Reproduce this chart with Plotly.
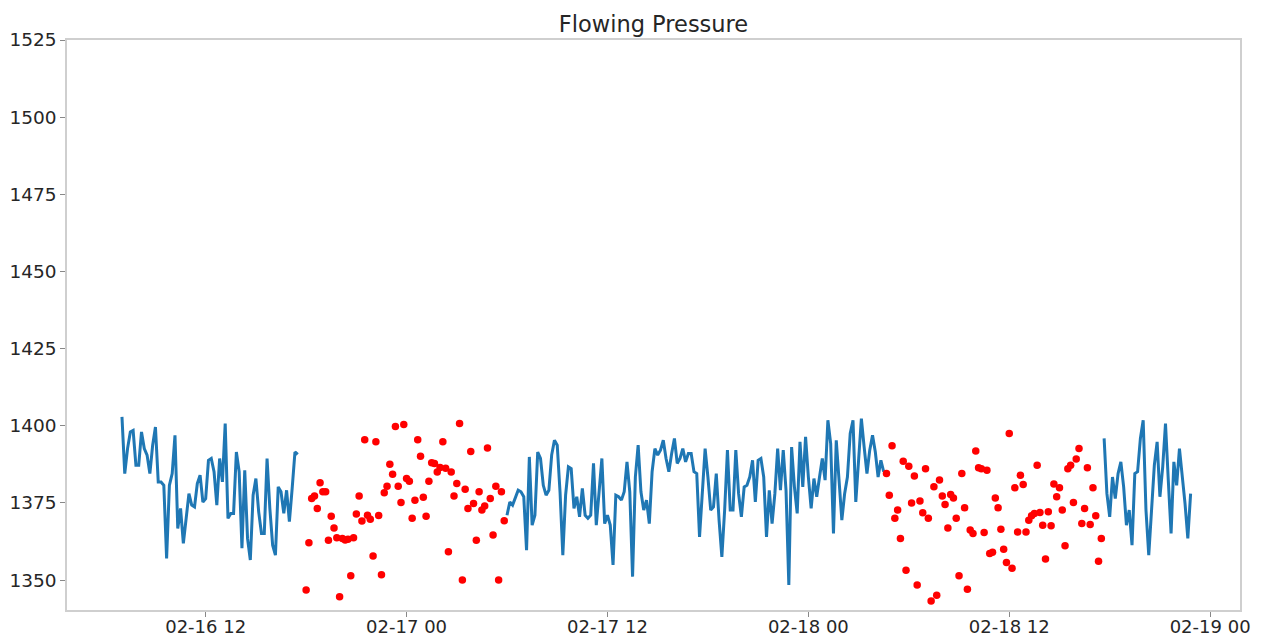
import pandas as pd
import plotly.graph_objects as go

# ---- data (10-minute samples) ----
blue1_start = "2021-02-16 07:00"
blue1 = [1402.9, 1384.5, 1392.6, 1398.0, 1398.5, 1387.2, 1387.2, 1398.0, 1392.6, 1390.5,
         1384.5, 1393.7, 1399.6, 1381.8, 1381.8, 1380.7, 1357.0, 1380.7, 1384.5, 1396.9,
         1366.7, 1373.2, 1361.9, 1371.0, 1378.0, 1374.3, 1373.7, 1381.3, 1384.0, 1375.3,
         1376.4, 1388.8, 1389.4, 1385.1, 1374.3, 1389.4, 1381.8, 1400.7, 1370.0, 1371.6,
         1371.6, 1391.5, 1385.1, 1360.3, 1385.6, 1363.5, 1356.5, 1377.5, 1382.9, 1372.1,
         1365.1, 1365.1, 1389.4, 1373.2, 1361.3, 1358.1, 1380.2, 1378.6, 1371.6, 1379.1,
         1368.9, 1379.7, 1391.5, 1390.7]

red1_start = "2021-02-16 18:00"
red1 = [1346.8, 1362.1, 1376.4, 1377.2, 1373.2, 1381.5, 1378.6, 1378.6, 1362.9, 1370.7,
        1366.9, 1363.7, 1344.6, 1363.5, 1363.0, 1363.2, 1351.4, 1363.7, 1371.4, 1377.2,
        1369.1, 1395.5, 1371.0, 1369.7, 1357.8, 1394.8, 1370.9, 1351.7, 1378.3, 1380.4,
        1387.5, 1384.3, 1399.8, 1380.4, 1375.1, 1400.4, 1382.9, 1382.0, 1370.0, 1375.9,
        1395.5, 1390.1, 1376.8, 1370.7, 1382.0, 1388.0, 1387.8, 1385.0, 1386.5, 1394.8,
        1386.2, 1359.2, 1385.0, 1377.2, 1381.3, 1400.7, 1350.0, 1379.4, 1373.2, 1391.7,
        1374.8, 1362.9, 1378.6, 1372.7, 1374.0, 1392.8, 1376.4, 1364.6, 1380.4, 1350.0,
        1378.6, 1369.2]

blue2_start = "2021-02-17 06:00"
blue2 = [1371.0, 1375.3, 1374.3, 1377.0, 1379.1, 1378.6, 1377.0, 1359.7, 1389.9, 1367.8,
         1371.0, 1391.5, 1389.4, 1380.7, 1377.5, 1379.1, 1390.5, 1395.3, 1393.7, 1378.6,
         1358.1, 1377.5, 1386.7, 1386.1, 1373.2, 1377.0, 1370.5, 1379.7, 1371.0, 1370.0,
         1371.0, 1387.8, 1367.8, 1378.6, 1389.4, 1368.3, 1371.0, 1367.8, 1354.9, 1377.5,
         1377.0, 1375.9, 1378.6, 1388.3, 1378.6, 1351.1, 1383.4, 1393.7, 1378.6, 1372.7,
         1375.9, 1368.3, 1385.1, 1392.6, 1390.5, 1392.1, 1395.3, 1389.4, 1385.1, 1391.0,
         1395.9, 1387.8, 1389.4, 1392.6, 1388.3, 1391.0, 1391.0, 1385.1,
         1384.5, 1364.0, 1378.0, 1392.6, 1383.4, 1372.7, 1373.7, 1384.5, 1369.4, 1357.5,
         1372.7, 1392.1, 1372.7, 1372.7, 1392.1, 1378.0, 1370.5, 1380.2, 1380.7, 1383.4,
         1388.8, 1375.3, 1388.8, 1389.4, 1383.4, 1364.0, 1379.1, 1368.3, 1378.0, 1392.6,
         1379.1, 1392.1, 1379.1, 1348.4, 1393.1, 1380.2, 1371.6, 1394.8, 1380.2, 1396.4,
         1383.4, 1373.2, 1382.9, 1377.0, 1383.4, 1389.4, 1382.4, 1401.8, 1394.2, 1365.1,
         1395.3, 1383.4, 1369.4, 1378.0, 1383.4, 1397.5, 1401.8, 1375.3, 1387.8, 1402.3,
         1393.1, 1384.5, 1392.1, 1396.9, 1391.5, 1383.4, 1388.8, 1385.1]

red2_start = "2021-02-18 04:40"
red2 = [1384.5, 1377.5, 1393.5, 1370.0, 1372.7, 1363.5, 1388.5, 1353.2, 1386.9, 1375.0,
        1383.7, 1348.4, 1375.6, 1371.8, 1386.1, 1370.0, 1343.2, 1380.2, 1345.1, 1382.4,
        1377.2, 1374.5, 1366.9, 1377.7, 1376.6, 1370.0, 1351.4, 1384.5, 1373.4, 1347.0,
        1366.2, 1365.1, 1391.8, 1386.4, 1386.1, 1365.4, 1385.6, 1358.6, 1359.0, 1376.6,
        1373.4, 1366.5, 1360.0, 1355.7, 1397.5, 1353.8, 1379.9, 1365.6, 1384.0, 1381.0,
        1365.6, 1369.4, 1370.8, 1371.6, 1387.2, 1371.9, 1367.8, 1356.8, 1372.1, 1367.6,
        1381.1, 1377.0, 1379.9, 1372.7, 1361.1, 1386.1, 1387.2, 1375.1, 1389.2, 1392.6,
        1368.3, 1373.2, 1386.4, 1368.0, 1379.9, 1370.8, 1356.1, 1363.5]

blue3_start = "2021-02-18 17:40"
blue3 = [1395.9, 1378.0, 1370.5, 1383.4, 1376.4, 1384.5, 1388.3, 1380.2, 1367.8, 1372.7,
         1361.3, 1384.5, 1385.1, 1395.9, 1401.8, 1372.7, 1358.1, 1372.7, 1387.2, 1394.8,
         1377.0, 1386.7, 1400.7, 1382.4, 1365.1, 1388.3, 1380.7, 1392.6, 1384.0, 1374.8,
         1363.5, 1378.0]

title = "Flowing Pressure"
y_ticks = [1350, 1375, 1400, 1425, 1450, 1475, 1500, 1525]
y_range = [1340.3, 1525]
x_range = ["2021-02-16 03:43", "2021-02-19 01:47"]
x_tick0 = "2021-02-16 00:00"


def times(start, vals):
    return pd.date_range(start, periods=len(vals), freq="10min")


BLUE = "#1f77b4"
fig = go.Figure()
for start, vals in [(blue1_start, blue1), (blue2_start, blue2), (blue3_start, blue3)]:
    fig.add_trace(go.Scatter(x=times(start, vals), y=vals, mode="lines",
                             line=dict(color=BLUE, width=3), showlegend=False))
for start, vals in [(red1_start, red1), (red2_start, red2)]:
    fig.add_trace(go.Scatter(x=times(start, vals), y=vals, mode="markers",
                             marker=dict(color="red", size=7.5, line=dict(width=0)),
                             showlegend=False))

axis_common = dict(showgrid=False, zeroline=False, showline=True, mirror=True,
                   linecolor="#cfcfcf", linewidth=1.5, ticks="outside", ticklen=5,
                   tickcolor="#888888", tickwidth=1, automargin=False)

fig.update_layout(
    width=1261, height=637,
    margin=dict(l=67, r=21, t=40, b=27, autoexpand=False),
    paper_bgcolor="white", plot_bgcolor="white",
    title=dict(text=title, x=0.5, xref="paper", xanchor="center",
               y=1 - 24 / 637, yref="container", yanchor="middle",
               font=dict(family="DejaVu Sans", size=22.5, color="#262626")),
    xaxis=dict(range=x_range, type="date", tick0=x_tick0, dtick=12 * 3600 * 1000,
               tickformat="%m-%d %H", ticklabelstandoff=-5,
               tickfont=dict(family="DejaVu Sans", size=18, color="#262626"),
               **axis_common),
    yaxis=dict(range=y_range, tickvals=y_ticks,
               tickfont=dict(family="DejaVu Sans", size=18.5, color="#262626"),
               **axis_common),
)

fig.write_html("out.html")
